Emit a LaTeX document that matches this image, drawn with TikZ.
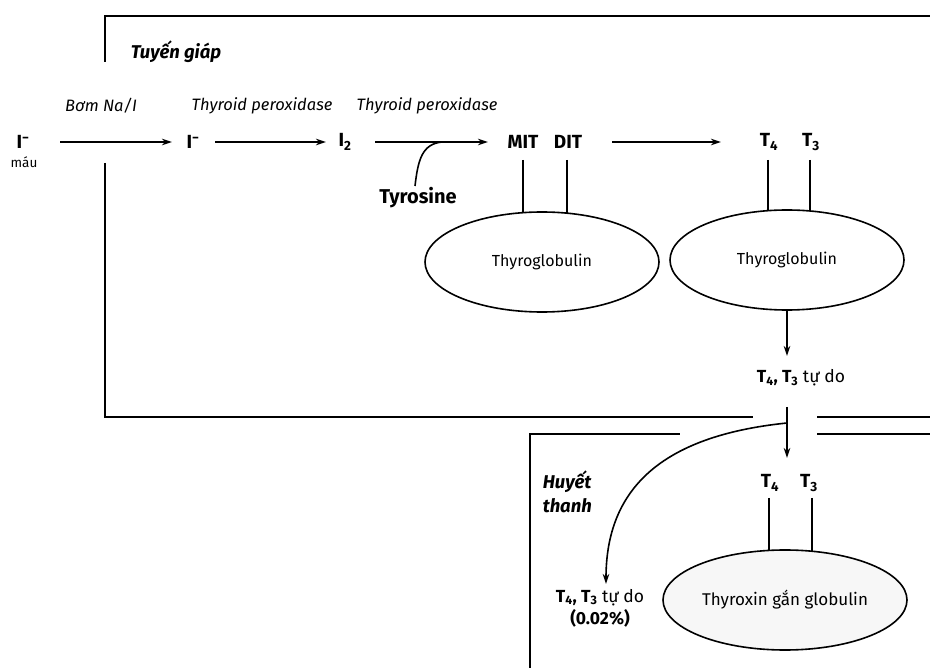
\documentclass[tikz,border=0pt]{standalone}
\usepackage{fontspec}
\setmainfont{Fira Sans}
\usetikzlibrary{arrows.meta,shapes.geometric}
\begin{document}
\begin{tikzpicture}[x=1pt,y=-1pt,line width=1.6pt,
  arr/.style={-{Stealth[length=10pt,width=6.5pt]}},
  lbl/.style={font=\fontsize{16.5}{19}\selectfont\itshape,inner sep=0pt},
  title/.style={font=\fontsize{18.5}{22}\selectfont\bfseries\itshape,inner sep=0pt},
  chem/.style={font=\fontsize{19}{22}\selectfont\bfseries,inner sep=0pt},
  glob/.style={draw,ellipse,minimum width=234pt,minimum height=100pt,inner sep=0pt,
    font=\fontsize{16}{18}\selectfont},
  free/.style={font=\fontsize{17.5}{22}\selectfont,inner sep=0pt,align=center}]
\useasboundingbox (0,0) rectangle (930,668);
% gland box
\draw (105,62) -- (105,16) -- (930,16);
\draw (105,163) -- (105,417) -- (753,417);
\draw (817,417) -- (930,417);
% serum box
\draw (530,668) -- (530,434) -- (680,434);
\draw (817,434) -- (930,434);
\node[title,anchor=west] (tg) at (130,52) {Tuyến giáp};
\node[title,anchor=west] (ht1) at (542,482) {Huyết};
\node[title,anchor=west] (ht2) at (542,506) {thanh};
% labels
\node[lbl] (bom) at (101,106) {Bơm Na/I};
\node[lbl] (tp1) at (262,106) {Thyroid peroxidase};
\node[lbl] (tp2) at (427,106) {Thyroid peroxidase};
% species
\node[chem] (imau) at (23,142) {I\textsuperscript{−}};
\node[font=\fontsize{13.5}{16}\selectfont,inner sep=0pt] (mau) at (24,162) {máu};
\node[chem] (ig) at (193,142) {I\textsuperscript{−}};
\node[chem] (i2) at (345,142) {I\textsubscript{2}};
\node[chem] (mit) at (523,142) {MIT};
\node[chem] (dit) at (568,142) {DIT};
\node[chem] (t4a) at (769,142) {T\textsubscript{4}};
\node[chem] (t3a) at (811,142) {T\textsubscript{3}};
\node[chem,font=\fontsize{20}{23}\selectfont\bfseries] (tyr) at (418,198) {Tyrosine};
% arrows
\coordinate (a1s) at (60,142); \coordinate (a1e) at (172,142);
\draw[arr] (a1s) -- (a1e);
\coordinate (a2s) at (215,142); \coordinate (a2e) at (326,142);
\draw[arr] (a2s) -- (a2e);
\coordinate (a3s) at (375,142); \coordinate (a3e) at (488,142);
\draw[arr] (a3s) -- (a3e);
\coordinate (a4s) at (612,142); \coordinate (a4e) at (721,142);
\draw[arr] (a4s) -- (a4e);
\coordinate (tyj) at (442,142);
\draw (415,186) .. controls (418,160) and (422,144) .. (tyj);
% thyroglobulins
\node[glob] (g1) at (542,262) {Thyroglobulin};
\node[glob] (g2) at (787,260) {Thyroglobulin};
\draw (523,160) -- (523,213);
\draw (567,160) -- (567,213);
\draw (768,160) -- (768,211);
\draw (810,160) -- (810,211);
% release
\draw[arr] (g2.south) -- (787,356);
\node[free,anchor=west] (free1) at (756,378) {\textbf{T\textsubscript{4}, T\textsubscript{3}} tự do};
\coordinate (p0) at (787,407);
\coordinate (p1) at (787,423);
\draw[arr] (p0) -- (787,458);
% serum
\node[chem] (t4b) at (770,483) {T\textsubscript{4}};
\node[chem] (t3b) at (809,483) {T\textsubscript{3}};
\node[glob,minimum width=244pt,fill=black!3,font=\fontsize{17}{20}\selectfont] (tbg) at (785,600) {Thyroxin gắn globulin};
\draw (769,498) -- (769,551);
\draw (812,498) -- (812,551);
\node[free] (free2) at (600,608) {\textbf{T\textsubscript{4}, T\textsubscript{3}} tự do\\\textbf{(0.02\%)}};
\draw[arr] (p1) .. controls (660,436) and (606,490) .. (606,584);
\end{tikzpicture}
\end{document}
